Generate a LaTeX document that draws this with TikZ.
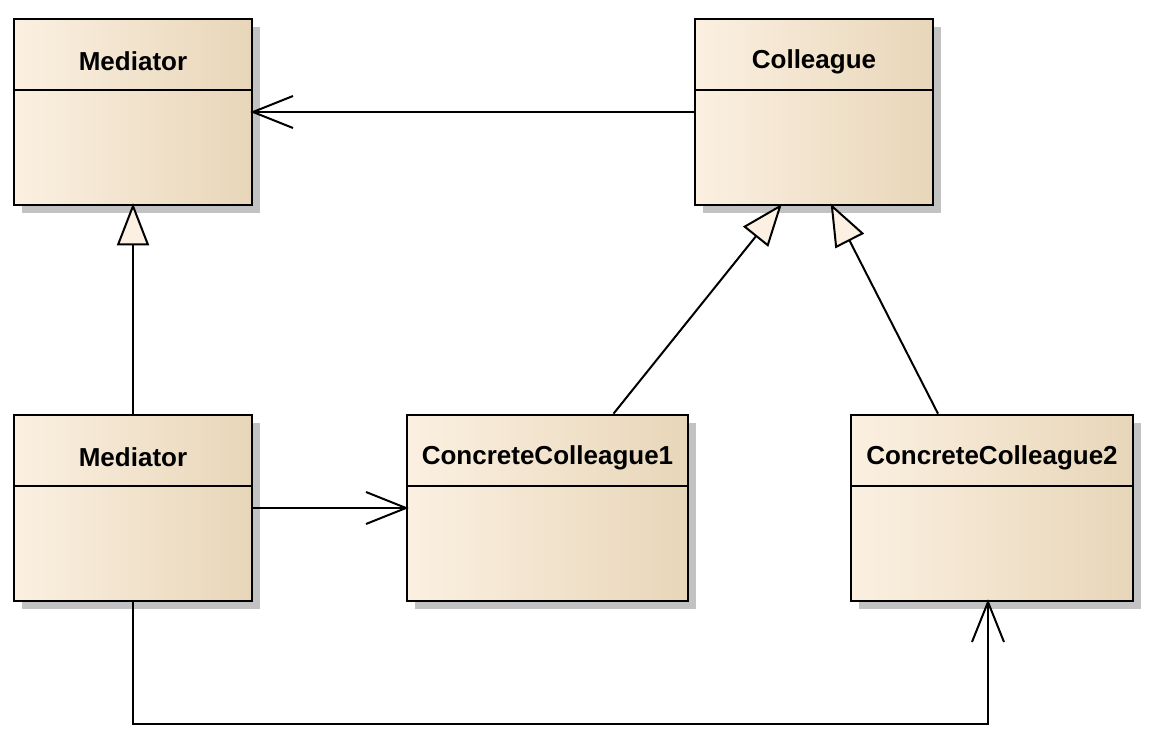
\documentclass[tikz,border=0pt]{standalone}
\usepackage{fontspec}
\setmainfont{Liberation Sans}
\usetikzlibrary{arrows.meta,shadows}
\definecolor{boxlight}{HTML}{FBF0E1}
\definecolor{boxdark}{HTML}{E8D6B9}
\definecolor{boxshadow}{HTML}{C2C2C2}
\begin{document}
\begin{tikzpicture}[x=0.5pt,y=-0.5pt,
    umlclass/.style={draw=black,line width=1.3pt,rectangle,
      left color=boxlight,middle color=boxlight,right color=boxdark,
      drop shadow={shadow xshift=4pt,shadow yshift=-4pt,opacity=1,fill=boxshadow},
      minimum height=93pt,inner sep=0pt},
    classname/.style={font=\fontsize{13pt}{15pt}\selectfont\bfseries,inner sep=0pt},
    divider/.style={line width=1pt},
    assoc/.style={line width=1pt,shorten >=-1.5pt,-{Straight Barb[length=20pt,width=16pt,line width=1pt]}},
    inherit/.style={line width=1pt,shorten >=-1.5pt,-{Triangle[open,length=21pt,width=16pt,line width=1pt,fill=boxlight]}}]
  \useasboundingbox (0,0) rectangle (1163,753);
  \node[umlclass,minimum width=119pt] (med) at (133,112) {};
  \node[umlclass,minimum width=119pt] (col) at (814,112) {};
  \node[umlclass,minimum width=119pt] (med2) at (133,508) {};
  \node[umlclass,minimum width=140.5pt] (cc1) at (547.5,508) {};
  \node[umlclass,minimum width=141pt] (cc2) at (992,508) {};
  \draw[divider] ([yshift=-36pt]med.north west) -- ([yshift=-36pt]med.north east);
  \draw[divider] ([yshift=-36pt]col.north west) -- ([yshift=-36pt]col.north east);
  \draw[divider] ([yshift=-36pt]med2.north west) -- ([yshift=-36pt]med2.north east);
  \draw[divider] ([yshift=-36pt]cc1.north west) -- ([yshift=-36pt]cc1.north east);
  \draw[divider] ([yshift=-36pt]cc2.north west) -- ([yshift=-36pt]cc2.north east);
  \node[classname] (medt) at ([yshift=-22pt]med.north) {Mediator};
  \node[classname] (colt) at ([yshift=-22pt]col.north) {Colleague};
  \node[classname] (med2t) at ([yshift=-22pt]med2.north) {Mediator};
  \node[classname] (cc1t) at ([yshift=-22pt]cc1.north) {ConcreteColleague1};
  \node[classname] (cc2t) at ([yshift=-22pt]cc2.north) {ConcreteColleague2};
  % associations
  \draw[assoc] (col.west) -- (med.east);
  \draw[assoc] (med2.east) -- (cc1.west);
  \draw[assoc] (med2.south) |- ([xshift=-2pt,yshift=-61pt]cc2.south) -- ([xshift=-2pt]cc2.south);
  % generalizations
  \draw[inherit] (med2.north) -- (med.south);
  \draw[inherit] ([xshift=33pt]cc1.north) -- ([xshift=-17pt]col.south);
  \draw[inherit] ([xshift=-27pt]cc2.north) -- ([xshift=9pt]col.south);
\end{tikzpicture}
\end{document}
